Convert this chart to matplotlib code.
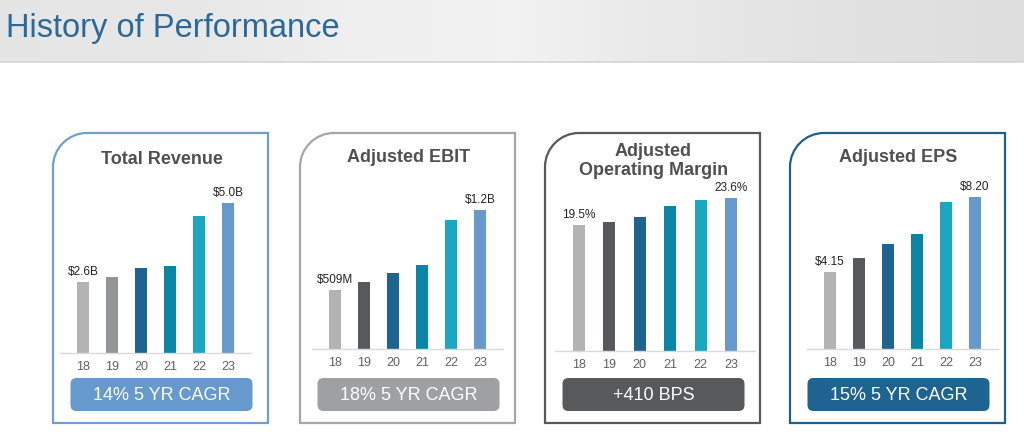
import numpy as np
import matplotlib
matplotlib.use("Agg")
import matplotlib.pyplot as plt
from matplotlib.path import Path
from matplotlib.patches import PathPatch, FancyBboxPatch

plt.rcParams['font.family'] = ['Liberation Sans', 'DejaVu Sans']

# Data
years = ['18', '19', '20', '21', '22', '23']
revenue = [2.6, 2.76, 3.03, 3.10, 4.62, 5.0]      # $B
ebit = [0.509, 0.579, 0.657, 0.726, 1.115, 1.2]     # $B
margin = [19.5, 19.9, 20.7, 22.4, 23.3, 23.6]       # %
eps = [4.15, 4.90, 5.65, 6.20, 7.95, 8.20]          # $

panel_titles = ['Total Revenue', 'Adjusted EBIT', 'Adjusted\nOperating Margin', 'Adjusted EPS']
first_labels = ['$2.6B', '$509M', '19.5%', '$4.15']
last_labels = ['$5.0B', '$1.2B', '23.6%', '$8.20']
pill_texts = ['14% 5 YR CAGR', '18% 5 YR CAGR', '+410 BPS', '15% 5 YR CAGR']

# Layout (pixels) and styling
W, H = 1024, 447
box_left = [53, 300, 545, 790]
box_w = 215
box_top, box_bot = 133, 423
bar_c0 = [83, 335, 579, 830]
bar_sp = [29, 29, 30.4, 29]
baseline = [353, 349, 351, 349]
ylo = [0.452, 0.0, 0.0, 0.0]
px_per_unit = [32.9, 115.7, 6.47, 18.55]
title_y = [160, 157, 161, 157]

edge_cols = ['#6f9fcc', '#a6a6a6', '#58595b', '#1f5f8b']
pill_cols = ['#6699cc', '#9fa0a2', '#58595b', '#1f6391']
bar_cols = [
    ['#b3b3b3', '#939598', '#1f6391', '#0b84a5', '#1ba6c2', '#6699cc'],
    ['#b3b3b3', '#58595b', '#1f6391', '#0b84a5', '#1ba6c2', '#6699cc'],
    ['#b3b3b3', '#58595b', '#1f6391', '#0b84a5', '#1ba6c2', '#6699cc'],
    ['#b3b3b3', '#58595b', '#1f6391', '#0b84a5', '#1ba6c2', '#6699cc'],
]

fig = plt.figure(figsize=(W / 100, H / 100), dpi=100)
fig.patch.set_facecolor('white')

# full-figure canvas in pixel coords (y down)
bg = fig.add_axes([0, 0, 1, 1])
bg.axis('off')

# header band
gx = np.linspace(0, 1, 400)
gray = np.interp(gx, [0, 0.2, 0.35, 0.5, 0.62, 0.8, 1.0],
                 [0.90, 0.91, 0.94, 0.95, 0.92, 0.89, 0.87])
band = np.stack([gray, gray, gray], axis=-1)[None, :, :]
bg.imshow(band, extent=(0, W, 62, 0), aspect='auto', zorder=0)
bg.set_xlim(0, W)
bg.set_ylim(H, 0)
bg.plot([0, W], [62, 62], color='#d4d4d4', lw=1.2, zorder=1)
bg.text(6, 28, 'History of Performance', fontsize=23.5, color='#2b6a98',
        va='center', ha='left', zorder=2)


def corner_box(l, t, r, b, rad):
    k = 0.5523
    verts = [(l, b), (r, b), (r, t), (l + rad, t),
             (l + rad * (1 - k), t), (l, t + rad * (1 - k)), (l, t + rad),
             (l, b), (l, b)]
    codes = [Path.MOVETO, Path.LINETO, Path.LINETO, Path.LINETO,
             Path.CURVE4, Path.CURVE4, Path.CURVE4,
             Path.LINETO, Path.CLOSEPOLY]
    return Path(verts, codes)


series = [revenue, ebit, margin, eps]

for i, vals in enumerate(series):
    l = box_left[i]
    r = l + box_w
    bg.add_patch(PathPatch(corner_box(l, box_top, r, box_bot, 34),
                           facecolor='white', edgecolor=edge_cols[i], lw=1.6, zorder=1))
    cx = l + box_w / 2 + 1
    bg.text(cx, title_y[i], panel_titles[i], fontsize=13, fontweight='bold',
            color='#505050', ha='center', va='center', linespacing=1.2, zorder=3)

    # pill
    pw, ph = 182, 33
    bg.add_patch(FancyBboxPatch((cx - pw / 2, 378), pw, ph,
                                boxstyle='round,pad=0,rounding_size=6',
                                facecolor=pill_cols[i], edgecolor='none', zorder=2))
    bg.text(cx, 395, pill_texts[i], fontsize=13, color='white',
            ha='center', va='center', zorder=3)

    # bar chart axes
    sp = bar_sp[i]
    ax_l = bar_c0[i] - 0.8 * sp
    ax_w = 6.6 * sp
    top_px = 185
    ax_h = baseline[i] - top_px
    ax = fig.add_axes([ax_l / W, 1 - baseline[i] / H, ax_w / W, ax_h / H])
    ax.set_facecolor('none')
    x = np.arange(len(years))
    ax.bar(x, [v - ylo[i] for v in vals], width=12 / sp, bottom=ylo[i],
           color=bar_cols[i], zorder=2)
    ax.set_xlim(-0.8, 5.8)
    ax.set_ylim(ylo[i], ylo[i] + ax_h / px_per_unit[i])
    for s in ['top', 'right', 'left']:
        ax.spines[s].set_visible(False)
    ax.spines['bottom'].set_color('#d9d9d9')
    ax.spines['bottom'].set_linewidth(1.0)
    ax.set_yticks([])
    ax.set_xticks(x)
    ax.set_xticklabels(years, fontsize=9, color='#606060')
    ax.tick_params(axis='x', length=0, pad=6)
    ax.annotate(first_labels[i], (0, vals[0]), xytext=(0, 3), textcoords='offset points',
                ha='center', va='bottom', fontsize=8.5, color='#222222')
    ax.annotate(last_labels[i], (5, vals[-1]), xytext=(0, 3), textcoords='offset points',
                ha='center', va='bottom', fontsize=8.5, color='#222222')

fig.savefig('out.png', dpi=100)
